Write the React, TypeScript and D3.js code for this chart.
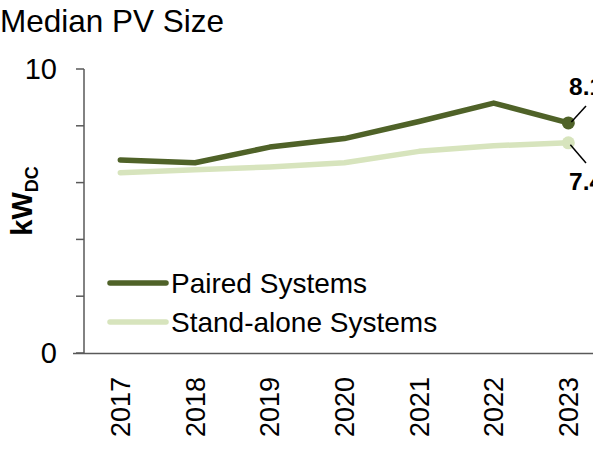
import React from 'react'
import * as d3 from 'd3'

const years = ['2017', '2018', '2019', '2020', '2021', '2022', '2023']
const paired = [6.8, 6.7, 7.25, 7.55, 8.15, 8.8, 8.1]
const standalone = [6.35, 6.45, 6.55, 6.7, 7.1, 7.3, 7.4]
const seriesNames = ['Paired Systems', 'Stand-alone Systems']
const seriesColors = ['#4f6228', '#d7e4bd']
const yTicks = [0, 2, 4, 6, 8, 10]
const yTickLabels = [0, 10]

const W = 593
const H = 449
const font = '"Liberation Sans", Arial, sans-serif'
const axisColor = '#595959'

const App = () => {
  const x = d3.scaleBand().domain(years).range([83, 83 + 7 * 74.67])
  const y = d3.scaleLinear().domain([0, 10]).range([353, 69])
  const cx = (d: string) => (x(d) || 0) + x.bandwidth() / 2

  const line = d3
    .line<number>()
    .x((d, i) => cx(years[i]))
    .y(d => y(d))

  const series = [paired, standalone]
  const last = years.length - 1

  return (
    <svg
      width={W}
      height={H}
      style={{ position: 'absolute', left: 0, top: 0, background: '#fff' }}
      fontFamily={font}
    >
      <text x={0} y={32} fontSize={31.5} fill="#000">Median PV Size</text>

      {/* y axis */}
      <line x1={84} x2={84} y1={y(10)} y2={y(0)} stroke={axisColor} strokeWidth={1.5} />
      {yTicks.map(t => (
        <line key={t} x1={76} x2={84} y1={y(t)} y2={y(t)} stroke={axisColor} strokeWidth={1.5} />
      ))}
      {yTickLabels.map(t => (
        <text key={t} x={57} y={y(t)} dy="0.36em" textAnchor="end" fontSize={29} fill="#000">
          {t}
        </text>
      ))}
      <text transform={`translate(32 ${201}) rotate(-90)`} textAnchor="middle" fontSize={29} fontWeight="bold" fill="#000">
        kW<tspan fontSize={18} dy={6}>DC</tspan>
      </text>

      {/* x axis */}
      <line x1={73} x2={W} y1={y(0) + 0.5} y2={y(0) + 0.5} stroke={axisColor} strokeWidth={1.5} />
      {years.map(d => (
        <text
          key={d}
          transform={`translate(${cx(d)} 377) rotate(-90)`}
          dy="0.36em"
          textAnchor="end"
          fontSize={27}
          fill="#000"
        >
          {d}
        </text>
      ))}

      {/* lines */}
      {series.slice().reverse().map((s, k) => {
        const i = series.length - 1 - k
        return (
          <path
            key={i}
            d={line(s) || ''}
            fill="none"
            stroke={seriesColors[i]}
            strokeWidth={5.5}
            strokeLinejoin="round"
            strokeLinecap="round"
          />
        )
      })}
      {series.map((s, i) => (
        <circle key={i} cx={cx(years[last])} cy={y(s[last])} r={6.5} fill={seriesColors[i]} />
      ))}

      {/* data labels */}
      <line x1={cx(years[last]) + 3} y1={y(paired[last]) - 1} x2={586} y2={106} stroke="#000" strokeWidth={1.5} />
      <text x={569} y={95} fontSize={24.5} fontWeight="bold" fill="#000">{paired[last].toFixed(1)}</text>
      <line x1={cx(years[last]) + 2} y1={y(standalone[last]) + 2} x2={586} y2={163} stroke="#000" strokeWidth={1.5} />
      <text x={569} y={190} fontSize={24.5} fontWeight="bold" fill="#000">{standalone[last].toFixed(1)}</text>

      {/* legend */}
      {seriesNames.map((n, i) => (
        <g key={n}>
          <line x1={110} x2={166} y1={283 + i * 39} y2={283 + i * 39} stroke={seriesColors[i]} strokeWidth={5.5} strokeLinecap="round" />
          <text x={171} y={293 + i * 39} fontSize={28} fill="#000">{n}</text>
        </g>
      ))}
    </svg>
  )
}

export default App
